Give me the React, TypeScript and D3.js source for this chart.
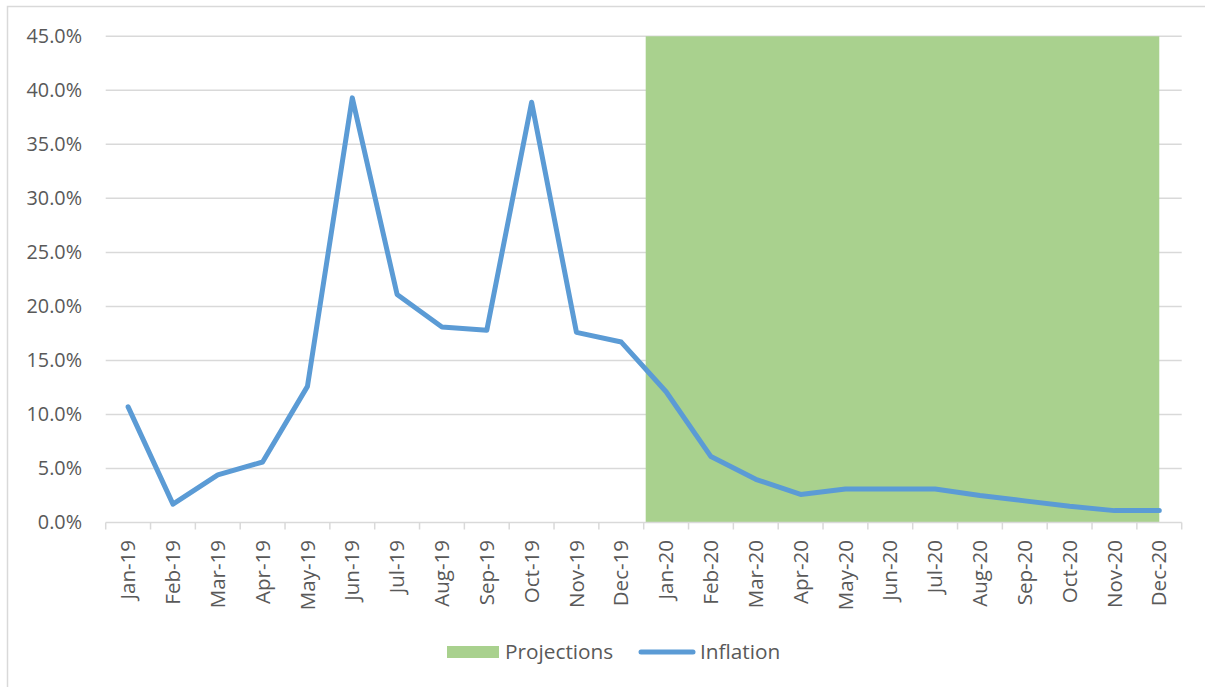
import React from "react";
import * as d3 from "d3";

const categories = [
  "Jan-19", "Feb-19", "Mar-19", "Apr-19", "May-19", "Jun-19", "Jul-19", "Aug-19",
  "Sep-19", "Oct-19", "Nov-19", "Dec-19", "Jan-20", "Feb-20", "Mar-20", "Apr-20",
  "May-20", "Jun-20", "Jul-20", "Aug-20", "Sep-20", "Oct-20", "Nov-20", "Dec-20",
];
const inflation = [
  10.7, 1.7, 4.4, 5.6, 12.6, 39.3, 21.1, 18.1, 17.8, 38.9, 17.6, 16.7,
  12.1, 6.1, 4.0, 2.6, 3.1, 3.1, 3.1, 2.5, 2.0, 1.5, 1.1, 1.1,
];
const projectionStart = "Jan-20";
const projectionEnd = "Dec-20";
const projectionLevel = 45;
const yTicks = [0, 5, 10, 15, 20, 25, 30, 35, 40, 45];

const W = 1205;
const H = 687;
const margin = { left: 105.7, right: 1181.7, top: 36.3, bottom: 522.5 };
const FONT = "'Open Sans', 'Liberation Sans', sans-serif";
const TEXT = "#595959";
const GRID = "#D9D9D9";
const BLUE = "#5B9BD5";
const GREEN = "#A9D18E";

export default function App() {
  const x = d3.scaleBand<string>().domain(categories).range([margin.left, margin.right]).padding(0);
  const y = d3.scaleLinear().domain([0, 45]).range([margin.bottom, margin.top]);
  const cx = (c: string) => (x(c) as number) + x.bandwidth() / 2;
  const line = d3
    .line<number>()
    .x((_, i) => cx(categories[i]))
    .y((d) => y(d));

  const projX0 = (x(projectionStart) as number) + 2;
  const projX1 = cx(projectionEnd);
  const tickXs = categories.map((c) => x(c) as number).concat([margin.right]);

  return (
    <svg
      width={W}
      height={H}
      style={{ position: "absolute", left: 0, top: 0, background: "#fff" }}
      fontFamily={FONT}
    >
      <rect x={7.5} y={6.5} width={W + 10} height={H + 10} fill="#fff" stroke={GRID} strokeWidth={1.5} />
      {yTicks.map((t) => (
        <g key={t}>
          {t > 0 && (
            <line x1={margin.left} x2={margin.right} y1={y(t)} y2={y(t)} stroke={GRID} strokeWidth={1.5} />
          )}
          <text x={82} y={y(t)} dy="0.35em" textAnchor="end" fontSize={19.8} fill={TEXT}>
            {t.toFixed(1) + "%"}
          </text>
        </g>
      ))}
      <rect
        x={projX0}
        y={y(projectionLevel)}
        width={projX1 - projX0}
        height={y(0) - y(projectionLevel)}
        fill={GREEN}
      />
      <line x1={margin.left} x2={margin.right} y1={y(0)} y2={y(0)} stroke={GRID} strokeWidth={1.5} />
      {tickXs.map((tx, i) => (
        <line key={i} x1={tx} x2={tx} y1={y(0)} y2={y(0) + 7} stroke={GRID} strokeWidth={1.5} />
      ))}
      {categories.map((c) => (
        <text
          key={c}
          transform={`translate(${cx(c)},${540}) rotate(-90)`}
          textAnchor="end"
          dy="0.35em"
          fontSize={20.5}
          fill={TEXT}
        >
          {c}
        </text>
      ))}
      <path
        d={line(inflation) as string}
        fill="none"
        stroke={BLUE}
        strokeWidth={5}
        strokeLinejoin="round"
        strokeLinecap="round"
      />
      <g>
        <rect x={447} y={646} width={52} height={12} fill={GREEN} />
        <text x={505} y={652} dy="0.35em" fontSize={20.8} fill={TEXT}>
          Projections
        </text>
        <line x1={641} x2={693} y1={652} y2={652} stroke={BLUE} strokeWidth={5} strokeLinecap="round" />
        <text x={700} y={652} dy="0.35em" fontSize={20.8} fill={TEXT}>
          Inflation
        </text>
      </g>
    </svg>
  );
}
